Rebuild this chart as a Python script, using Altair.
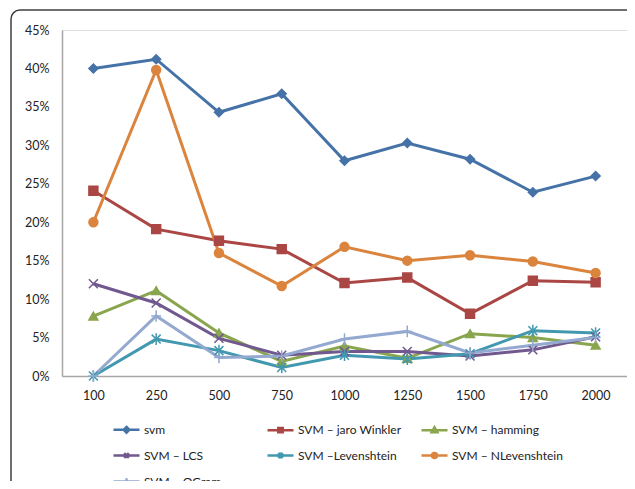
import altair as alt
import pandas as pd

categories = ["100", "250", "500", "750", "1000", "1250", "1500", "1750", "2000"]
series_names = ["svm", "SVM – jaro Winkler", "SVM – hamming", "SVM – LCS",
                "SVM –Levenshtein", "SVM – NLevenshtein", "SVM – QGram"]

svm = [40.0, 41.2, 34.3, 36.7, 28.0, 30.3, 28.2, 23.9, 26.0]
jaro = [24.1, 19.1, 17.6, 16.5, 12.1, 12.8, 8.1, 12.4, 12.2]
hamming = [7.8, 11.1, 5.6, 1.9, 3.9, 2.3, 5.5, 5.0, 4.0]
lcs = [12.0, 9.5, 4.9, 2.7, 3.2, 3.2, 2.6, 3.4, 5.1]
lev = [0.0, 4.8, 3.3, 1.1, 2.7, 2.2, 2.9, 5.9, 5.6]
nlev = [20.0, 39.8, 16.0, 11.7, 16.8, 15.0, 15.7, 14.9, 13.4]
qgram = [0.0, 7.8, 2.4, 2.6, 4.8, 5.8, 3.0, 4.0, 5.0]

all_values = [svm, jaro, hamming, lcs, lev, nlev, qgram]
colors = ["#4572A7", "#AA4643", "#89A54E", "#71588F", "#4198AF", "#DB843D", "#93A9CF"]

point_shapes = [
    "diamond",
    "square",
    "triangle-up",
    "M-1,-1L1,1M-1,1L1,-1",
    "M-1,-1L1,1M-1,1L1,-1M0,-1.3L0,1.3",
    "circle",
    "M-1.1,0L1.1,0M0,-1.3L0,1.3",
]
legend_shapes = [
    "M-1,0H1M0,-0.22L0.22,0L0,0.22L-0.22,0Z",
    "M-1,0H1M-0.17,-0.17H0.17V0.17H-0.17Z",
    "M-1,0H1M0,-0.22L0.22,0.17L-0.22,0.17Z",
    "M-1,0H1M-0.18,-0.18L0.18,0.18M-0.18,0.18L0.18,-0.18",
    "M-1,0H1M-0.18,-0.18L0.18,0.18M-0.18,0.18L0.18,-0.18M0,-0.24V0.24",
    "M-1,0H1M0.19,0A0.19,0.19 0 1,1 -0.19,0A0.19,0.19 0 1,1 0.19,0Z",
    "M-1,0H1M0,-0.25V0.25",
]

rows = []
for name, vals in zip(series_names, all_values):
    for c, v in zip(categories, vals):
        rows.append({"series": name, "size": c, "value": v / 100.0})
df = pd.DataFrame(rows)

FONT = "Lato"
W, H = 565, 346

x_enc = alt.X("size:N", sort=categories,
              scale=alt.Scale(domain=categories, padding=0.5),
              axis=alt.Axis(title=None, labelAngle=0, ticks=False, labelPadding=13,
                            labelFontSize=12.5, labelFont=FONT, labelColor="#222222",
                            domainColor="#a6a6a6", domainWidth=1.5, grid=False))
y_enc = alt.Y("value:Q",
              scale=alt.Scale(domain=[0, 0.45], nice=False, zero=True),
              axis=alt.Axis(title=None, format=".0%", values=[i * 0.05 for i in range(10)],
                            ticks=False, labelPadding=13, labelFontSize=12.5, labelFont=FONT,
                            labelColor="#222222", domainColor="#a6a6a6", domainWidth=1.5,
                            grid=False))

color_scale = alt.Scale(domain=series_names, range=colors)

base = alt.Chart(df)

lines = base.mark_line(strokeWidth=3).encode(
    x=x_enc, y=y_enc,
    color=alt.Color("series:N", scale=color_scale, legend=None),
    order=alt.Order("series:N"),
)

points = base.mark_point(filled=True, size=80, strokeWidth=1.5, opacity=1).encode(
    x=x_enc, y=y_enc,
    fill=alt.Fill("series:N", scale=color_scale, legend=None),
    stroke=alt.Stroke("series:N", scale=color_scale, legend=None),
    shape=alt.Shape("series:N", scale=alt.Scale(domain=series_names, range=point_shapes), legend=None),
)

leg = alt.Legend(title=None, orient="none", direction="horizontal", legendX=50, legendY=385,
                 columns=3, gridAlign="all", columnPadding=7, rowPadding=3, symbolSize=676,
                 symbolStrokeWidth=2.5, labelFont=FONT, labelFontSize=12,
                 labelColor="#222222", labelOffset=3, labelLimit=200, symbolOpacity=1)

legend_layer = base.transform_filter("datum.value < -1").mark_point(filled=True, strokeWidth=2.5).encode(
    x=x_enc, y=y_enc,
    fill=alt.Fill("series:N", scale=alt.Scale(domain=series_names, range=colors), legend=leg),
    stroke=alt.Stroke("series:N", scale=alt.Scale(domain=series_names, range=colors), legend=leg),
    shape=alt.Shape("series:N", scale=alt.Scale(domain=series_names, range=legend_shapes), legend=leg),
)

frame = alt.Chart(pd.DataFrame({"a": [0]})).mark_rect(
    fill=None, stroke="#404040", strokeWidth=1.5, cornerRadius=9
).encode(
    x=alt.value(-51), x2=alt.value(W + 60),
    y=alt.value(-20), y2=alt.value(H + 200),
)

chart = alt.layer(frame, lines, points, legend_layer).resolve_scale(
    shape="independent", fill="independent", stroke="independent"
).properties(
    width=W, height=H,
    autosize=alt.AutoSizeParams(type="none"),
    padding={"left": 54, "top": 22, "right": 0, "bottom": 105},
).configure_view(stroke=None).configure(background="white")

chart.save("out.html", embed_options={"renderer": "svg", "actions": False})
